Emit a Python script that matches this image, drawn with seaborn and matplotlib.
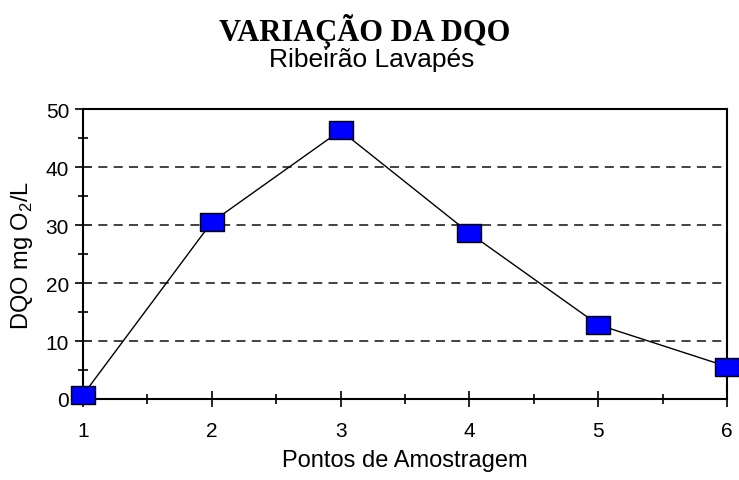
import numpy as np
import pandas as pd
import seaborn as sns
import matplotlib
matplotlib.use('Agg')
import matplotlib.pyplot as plt
from matplotlib.ticker import MultipleLocator

# pontos de amostragem e DQO (mg O2/L)
pontos = [1, 2, 3, 4, 5, 6]
dqo = [0.7, 30.5, 46.3, 28.6, 12.8, 5.6]

df = pd.DataFrame({'Ponto': pontos, 'DQO': dqo})

sns.set_style('white')
plt.rcParams['font.family'] = ['Liberation Sans', 'DejaVu Sans']
plt.rcParams['mathtext.fontset'] = 'custom'
plt.rcParams['mathtext.rm'] = 'Liberation Sans'
plt.rcParams['text.color'] = 'black'
plt.rcParams['axes.labelcolor'] = 'black'

fig = plt.figure(figsize=(7.39, 4.81), dpi=100)
ax = fig.add_axes([0.1123, 0.1684, 0.8715, 0.6029])

# marcador retangular (mais largo que alto)
rect = [(-1.3, -1), (1.3, -1), (1.3, 1), (-1.3, 1), (-1.3, -1)]
sns.lineplot(data=df, x='Ponto', y='DQO', ax=ax, color='black', linewidth=1,
             marker=rect, markersize=17, markerfacecolor='#0000ff',
             markeredgecolor='black', markeredgewidth=1, clip_on=False, zorder=5)

ax.set_xlim(1, 6)
ax.set_ylim(0, 50)
ax.xaxis.set_major_locator(MultipleLocator(1))
ax.xaxis.set_minor_locator(MultipleLocator(0.5))
ax.yaxis.set_major_locator(MultipleLocator(10))
ax.yaxis.set_minor_locator(MultipleLocator(5))

for v in [10, 20, 30, 40]:
    ax.axhline(v, color='#333333', linestyle=(0, (5, 3.5)), linewidth=1.3, zorder=1)

for s in ax.spines.values():
    s.set_color('black')
    s.set_linewidth(1.5)

ax.tick_params(axis='both', which='major', direction='inout', length=12, width=1.2,
               colors='black', labelsize=15, bottom=True, left=True)
ax.tick_params(axis='both', which='minor', direction='inout', length=7, width=1.2,
               colors='black', bottom=True, left=True)
ax.tick_params(axis='x', pad=10)
ax.tick_params(axis='y', pad=4)

ax.set_xlabel('Pontos de Amostragem', fontsize=17, labelpad=6)
ax.set_ylabel('DQO mg O$_2$/L', fontsize=17, labelpad=8)

fig.text(0.493, 0.935, 'VARIAÇÃO DA DQO', ha='center', va='center',
         fontsize=22, fontweight='bold', family='Liberation Serif')
fig.text(0.503, 0.876, 'Ribeirão Lavapés', ha='center', va='center', fontsize=19)

plt.savefig('out.png', dpi=100)
